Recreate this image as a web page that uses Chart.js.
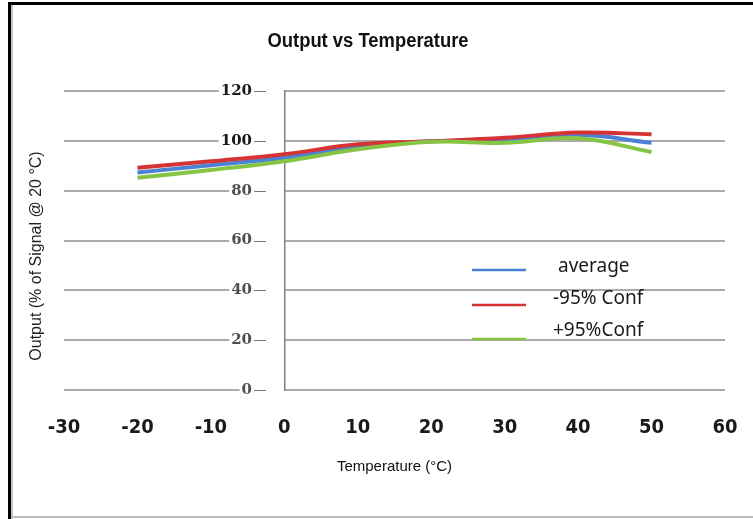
<!DOCTYPE html>
<html><head><meta charset="utf-8">
<script src="https://cdn.jsdelivr.net/npm/chart.js@4.4.1/dist/chart.umd.min.js"></script>
<style>
html,body{margin:0;padding:0;background:#fff;overflow:hidden}
#wrap{position:relative;width:753px;height:519px}
canvas{position:absolute;left:0;top:0}
.b{position:absolute}
</style></head><body>
<div id="wrap">
<canvas id="c" width="753" height="519"></canvas>
<div class="b" style="left:8px;top:2px;width:3px;height:517px;background:#000"></div>
<div class="b" style="left:11px;top:5px;width:2px;height:514px;background:#c4c4c4"></div>
<div class="b" style="left:8px;top:2px;width:745px;height:3px;background:#000"></div>
<div class="b" style="left:11px;top:516px;width:742px;height:2px;background:#bdbdbd"></div>
</div>
<script>
// ---- data ----
const temperatures = [-20, -10, 0, 10, 20, 30, 40, 50];
const averageValues = [87.3, 90.2, 93.2, 97.6, 99.8, 100.2, 102.4, 99.2];
const minus95Values = [89.2, 91.8, 94.6, 98.6, 99.8, 101.2, 103.3, 102.6];
const plus95Values  = [85.2, 88.3, 91.8, 96.6, 99.6, 99.2, 101.0, 95.5];
const seriesNames = ['average', '-95% Conf', '+95%Conf'];
const xTickLabels = ['-30', '-20', '-10', '0', '10', '20', '30', '40', '50', '60'];
const yTickLabels = ['0', '20', '40', '60', '80', '100', '120'];
const chartTitle = 'Output vs Temperature';
const xAxisTitle = 'Temperature (°C)';
const yAxisTitle = 'Output (% of Signal @ 20 °C)';

// ---- layout / style ----
const yLabelAnchor = -4.4;   // x value where the y tick labels end (labels sit left of the x=0 axis line)

const toPoints = vals => temperatures.map((t, i) => ({x: t, y: vals[i]}));

const decor = {
  id: 'decor',
  afterDraw(chart, args, opts) {
    const ctx = chart.ctx;
    const xs = chart.scales.x, ys = chart.scales.y;
    ctx.save();
    // title
    ctx.fillStyle = '#111';
    ctx.font = 'bold 20px "Liberation Sans", Arial, sans-serif';
    ctx.textAlign = 'center';
    ctx.textBaseline = 'middle';
    ctx.save();
    ctx.translate(368, 41);
    ctx.scale(0.92, 1);
    ctx.fillText(chartTitle, 0, 0);
    ctx.restore();
    // y axis title
    ctx.save();
    ctx.translate(37, 256);
    ctx.rotate(-Math.PI / 2);
    ctx.font = '16px "Liberation Sans", Arial, sans-serif';
    ctx.fillStyle = '#222';
    ctx.fillText(yAxisTitle, 0, 0);
    ctx.restore();
    // small dashes right after the y tick labels
    const lx = xs.getPixelForValue(yLabelAnchor);
    ctx.strokeStyle = '#777';
    ctx.lineWidth = 1;
    ys.ticks.forEach(t => {
      const py = Math.round(ys.getPixelForValue(t.value)) + 0.5;
      ctx.beginPath();
      ctx.moveTo(lx + 2, py);
      ctx.lineTo(lx + 14, py);
      ctx.stroke();
    });
    // legend
    ctx.font = '19px "Noto Sans", sans-serif';
    ctx.textAlign = 'left';
    ctx.textBaseline = 'middle';
    chart.data.datasets.forEach((ds, i) => {
      const ly = opts.lineY[i];
      ctx.strokeStyle = ds.borderColor;
      ctx.lineWidth = 2.5;
      ctx.beginPath();
      ctx.moveTo(opts.lineX[0], ly);
      ctx.lineTo(opts.lineX[1], ly);
      ctx.stroke();
      ctx.fillStyle = '#1a1a1a';
      ctx.fillText(ds.label, opts.textX[i], opts.textY[i]);
    });
    ctx.restore();
  }
};

new Chart(document.getElementById('c'), {
  type: 'line',
  data: {
    datasets: [
      {label: seriesNames[0], data: toPoints(averageValues), borderColor: '#4a82d6', order: 3},
      {label: seriesNames[1], data: toPoints(minus95Values), borderColor: '#d63434', order: 2},
      {label: seriesNames[2], data: toPoints(plus95Values), borderColor: '#86c444', order: 1}
    ]
  },
  options: {
    responsive: false,
    animation: false,
    devicePixelRatio: 1,
    layout: {padding: {left: 64, right: 28, top: 91, bottom: 43}},
    elements: {
      line: {borderWidth: 4, tension: 0.4, fill: false},
      point: {radius: 0}
    },
    plugins: {
      legend: {display: false},
      title: {display: false},
      tooltip: {enabled: false},
      decor: {lineX: [472, 526], lineY: [270, 305, 339], textX: [558, 553, 553], textY: [267, 299, 331]}
    },
    scales: {
      x: {
        type: 'linear', position: 'bottom', min: -30, max: 60,
        grid: {display: false, drawTicks: true, tickLength: 22},
        border: {display: false},
        ticks: {
          stepSize: 10, padding: 3.5, maxRotation: 0,
          color: '#1a1a1a',
          font: {family: '"Liberation Sans Narrow", "DejaVu Sans Condensed", sans-serif', size: 20, weight: 'bold'},
          callback: (v, i) => xTickLabels[i]
        },
        title: {
          display: true, text: xAxisTitle, color: '#111',
          font: {family: '"Liberation Sans", Arial, sans-serif', size: 15},
          padding: {top: 15, bottom: 0}
        }
      },
      y: {
        type: 'linear', position: {x: yLabelAnchor}, min: 0, max: 120,
        grid: {color: '#ababab', lineWidth: 2, drawTicks: false},
        border: {display: false},
        ticks: {
          stepSize: 20,
          color: ctx => (ctx.tick && ctx.tick.value >= 100) ? '#1a1a1a' : '#505050',
          font: {family: '"DejaVu Serif", serif', size: 15, weight: 'bold'},
          showLabelBackdrop: true, backdropColor: '#ffffff',
          backdropPadding: {top: 0, bottom: 0, left: 2, right: 33},
          callback: (v, i) => yTickLabels[i]
        }
      },
      yAxisLine: {
        type: 'linear', position: {x: 0}, min: 0, max: 120,
        grid: {display: false, drawTicks: false},
        border: {display: true, color: '#808080', width: 1.5},
        ticks: {display: false}
      }
    }
  },
  plugins: [decor]
});
</script>
</body></html>
